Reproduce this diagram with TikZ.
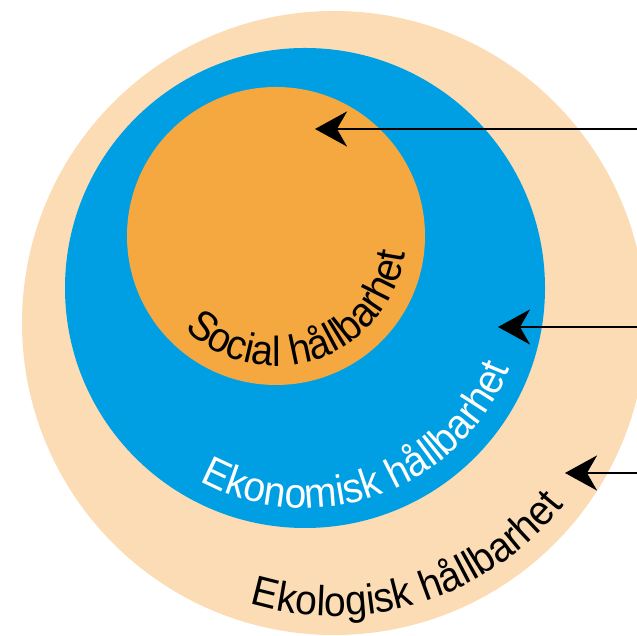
\documentclass[tikz,border=0pt]{standalone}
\usepackage{fontspec}
\setmainfont{Liberation Sans}
\newfontfamily\arclabelfont[FakeStretch=0.93]{Liberation Sans}
\usetikzlibrary{positioning}
\usetikzlibrary{arrows.meta}
\usetikzlibrary{decorations.text}
\definecolor{diagrampeach}{RGB}{251,220,180}
\definecolor{diagramblue}{RGB}{0,159,227}
\definecolor{diagramorange}{RGB}{245,168,63}

\begin{document}
\begin{tikzpicture}[x=1pt, y=1pt,
        ring/.style={circle, inner sep=0pt, draw=none},
        pointer/.style={line width=2.7pt, -{Stealth[length=32pt, width=35pt, inset=10pt]}},
        arclabel/.style={decorate, decoration={text along path, text align=center}}]

        \useasboundingbox (0,0) rectangle (637,636);

        % Circles
        \node[ring, fill=diagrampeach, minimum size=624pt] (ekologiCircle) at (334,313) {};
        \node[ring, fill=diagramblue, minimum size=480pt] (ekonomiCircle) at (305,348) {};
        \node[ring, fill=diagramorange, minimum size=298pt] (socialCircle) at (276,400) {};

        % Curved labels
        \path[arclabel, decoration={text={|\arclabelfont\fontsize{42}{42}\selectfont|Social hållbarhet}}]
            ([shift={(205:130)}]socialCircle.center) arc[start angle=205, end angle=373, radius=130];
        \path[arclabel, decoration={text color=white, text={|\arclabelfont\fontsize{42}{42}\selectfont|Ekonomisk hållbarhet}}]
            ([shift={(220:220)}]ekonomiCircle.center) arc[start angle=220, end angle=360, radius=220];
        \path[arclabel, decoration={text={|\arclabelfont\fontsize{42}{42}\selectfont|Ekologisk hållbarhet}}]
            ([shift={(240:293)}]ekologiCircle.center) arc[start angle=240, end angle=335, radius=293];

        % Arrows
        \coordinate (socialStart) at (637,507);
        \coordinate (socialTip) at (315,507);
        \coordinate (ekonomiStart) at (637,309);
        \coordinate (ekonomiTip) at (498,309);
        \coordinate (ekologiStart) at (637,163);
        \coordinate (ekologiTip) at (565,163);
        \draw[pointer] (socialStart) -- (socialTip);
        \draw[pointer] (ekonomiStart) -- (ekonomiTip);
        \draw[pointer] (ekologiStart) -- (ekologiTip);

    \end{tikzpicture}
\end{document}
